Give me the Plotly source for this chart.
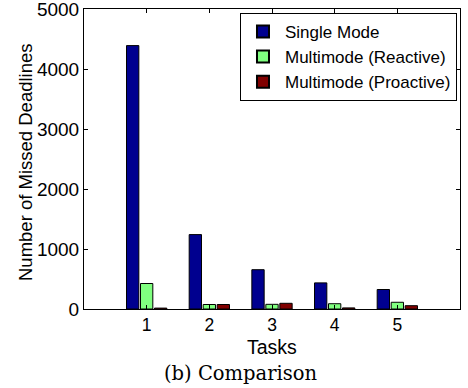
import plotly.graph_objects as go

tasks = [1, 2, 3, 4, 5]
single_mode = [4390, 1240, 655, 435, 325]
multimode_reactive = [425, 75, 78, 88, 112]
multimode_proactive = [15, 75, 95, 18, 55]
series_names = ["Single Mode", "Multimode (Reactive)", "Multimode (Proactive)"]
series_colors = ["#00008F", "#80FF80", "#800000"]
y_ticks = [0, 1000, 2000, 3000, 4000, 5000]

SANS = "Liberation Sans"
fig = go.Figure()
for name, vals, col in zip(series_names, [single_mode, multimode_reactive, multimode_proactive], series_colors):
    fig.add_trace(go.Bar(x=tasks, y=vals, name=name, marker=dict(color=col, line=dict(color="black", width=1))))

axis_font = dict(family=SANS, size=19, color="black")
fig.update_layout(
    width=468, height=388,
    margin=dict(l=84, r=8, t=9, b=79),
    paper_bgcolor="white", plot_bgcolor="white",
    barmode="group", bargap=0.33, bargroupgap=0.12,
    font=axis_font,
    showlegend=True,
    legend=dict(x=0.992, y=0.987, xanchor="right", yanchor="top",
                bordercolor="black", borderwidth=1, bgcolor="white",
                font=dict(family=SANS, size=17, color="black"),
                tracegroupgap=0, itemsizing="constant", itemwidth=34),
    xaxis=dict(range=[0, 6], tickvals=tasks, ticktext=[str(t) for t in tasks],
               showline=True, linecolor="black", linewidth=1, mirror="ticks",
               ticks="inside", ticklen=4, tickcolor="black", showgrid=False, zeroline=False,
               ticklabeloverflow="allow", tickfont=dict(size=17.5), automargin=False),
    yaxis=dict(range=[0, 5000], tickvals=y_ticks, ticktext=[str(v) for v in y_ticks],
               showline=True, linecolor="black", linewidth=1, mirror="ticks",
               ticks="inside", ticklen=4, tickcolor="black", showgrid=False, zeroline=False,
               ticklabeloverflow="allow", automargin=False),
)
fig.add_annotation(text="Number of Missed Deadlines", x=(25 - 84) / 376, y=(309 - 162) / 300,
                   xref="paper", yref="paper", textangle=-90,
                   xanchor="center", yanchor="middle", showarrow=False,
                   font=dict(family=SANS, size=18.5, color="black"))
fig.add_annotation(text="Tasks", x=0.5, y=-0.126, xref="paper", yref="paper",
                   xanchor="center", yanchor="middle", showarrow=False,
                   font=dict(family=SANS, size=19.5, color="black"))
fig.add_annotation(text="(b) Comparison", x=(240 - 84) / 376, y=-0.215, xref="paper", yref="paper",
                   xanchor="center", yanchor="middle", showarrow=False,
                   font=dict(family="DejaVu Serif", size=19.5, color="black"))
fig.write_html("out.html")
